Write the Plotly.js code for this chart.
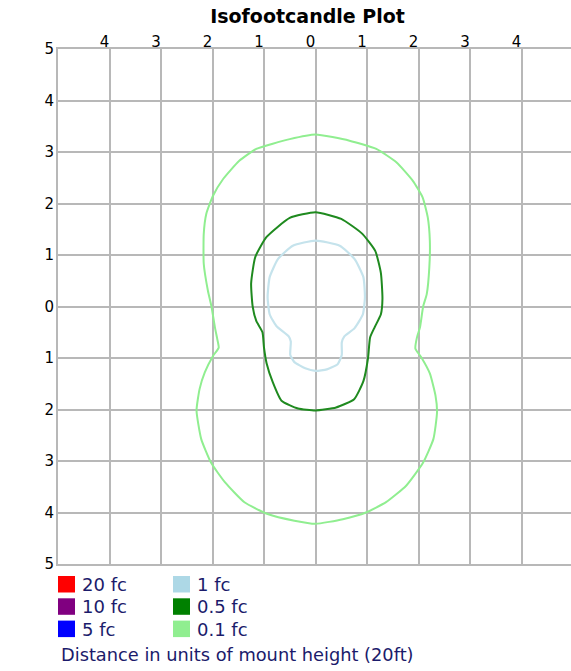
<!DOCTYPE html>
<html>
<head>
<meta charset="utf-8">
<script src="https://cdn.plot.ly/plotly-3.0.1.min.js"></script>
<style>html,body{margin:0;padding:0;background:#fff;}#chart{width:571px;height:671px;}</style>
</head>
<body>
<div id="chart"></div>
<script>
// ---- data (distance in units of mount height) ----
const axisTicks = [-5, -4, -3, -2, -1, 0, 1, 2, 3, 4, 5];
const axisTickText = ['5', '4', '3', '2', '1', '0', '1', '2', '3', '4', '5'];
const xTopTicks = [-4, -3, -2, -1, 0, 1, 2, 3, 4];
const xTopTickText = ['4', '3', '2', '1', '0', '1', '2', '3', '4'];

// 0.1 fc contour
const fc01X = [0, 0.66, 1.18, 1.57, 1.89, 2.08, 2.18, 2.22, 2.21, 2.16, 2.09, 2.03, 1.97, 1.94, 2.05, 2.22, 2.33, 2.36, 2.29, 2.09, 1.76, 1.37, 0.98, 0.53, 0,
               -0.41, -0.93, -1.38, -1.76, -2.03, -2.22, -2.31, -2.25, -2.15, -1.99, -1.88, -1.91, -1.95, -2.02, -2.09, -2.17, -2.17, -2.12, -1.99, -1.79, -1.48, -1.15, -0.50, 0];
const fc01Y = [3.34, 3.22, 3.06, 2.80, 2.44, 2.12, 1.73, 1.28, 0.76, 0.24, 0.0, -0.40, -0.60, -0.82, -0.98, -1.30, -1.73, -2.05, -2.57, -3.03, -3.48, -3.80, -4.00, -4.13, -4.22,
               -4.16, -4.03, -3.80, -3.41, -3.03, -2.57, -2.02, -1.60, -1.28, -0.96, -0.80, -0.62, -0.42, 0.0, 0.31, 0.83, 1.41, 1.80, 2.15, 2.48, 2.83, 3.06, 3.25, 3.34];

// 0.5 fc contour
const fc05X = [0, 0.50, 0.90, 1.16, 1.27, 1.30, 1.27, 1.15, 1.06, 1.02, 0.93, 0.75, 0.40, 0,
               -0.34, -0.66, -0.83, -0.95, -1.00, -1.03, -1.15, -1.22, -1.25, -1.17, -0.95, -0.50, 0];
const fc05Y = [1.83, 1.70, 1.42, 1.08, 0.65, 0.15, -0.15, -0.40, -0.60, -1.00, -1.45, -1.80, -1.96, -2.02,
               -1.98, -1.83, -1.47, -1.10, -0.80, -0.50, -0.28, 0.0, 0.45, 0.96, 1.35, 1.72, 1.83];

// 1 fc contour
const fc1X = [0, 0.47, 0.76, 0.93, 0.96, 0.92, 0.76, 0.56, 0.51, 0.51, 0.43, 0.22, 0,
              -0.20, -0.41, -0.49, -0.48, -0.52, -0.76, -0.89, -0.93, -0.89, -0.73, -0.44, 0];
const fc1Y = [1.28, 1.18, 0.92, 0.57, 0.18, -0.15, -0.42, -0.58, -0.70, -0.94, -1.12, -1.22, -1.25,
              -1.20, -1.08, -0.94, -0.68, -0.58, -0.38, -0.15, 0.18, 0.57, 0.92, 1.18, 1.28];

const legendLabels = ['20 fc', '10 fc', '5 fc', '1 fc', '0.5 fc', '0.1 fc'];
const legendColors = ['#ff0000', '#800080', '#0000ff', '#add8e6', '#008000', '#90ee90'];
const chartTitle = 'Isofootcandle Plot';
const footerText = 'Distance in units of mount height (20ft)';

// ---- layout geometry ----
const W = 571, H = 671;
const mL = 58, mT = 49, mB = 107, mR = 0;
const plotW = W - mL - mR, plotH = H - mT - mB;
const unitPx = plotH / 10;
const xMax = -5 + plotW / unitPx;
const gridCol = '#b8b8b8';
const navy = '#1b1b6b';
const pxToPaperX = px => (px - mL) / plotW;
const pxToPaperY = py => (H - mB - py) / plotH;

const traces = [
  {x: fc01X, y: fc01Y, mode: 'lines', line: {color: '#90ee90', width: 2, shape: 'spline', smoothing: 0.5}, hoverinfo: 'skip'},
  {x: fc05X, y: fc05Y, mode: 'lines', line: {color: '#1f8a1f', width: 2, shape: 'spline', smoothing: 0.5}, hoverinfo: 'skip'},
  {x: fc1X, y: fc1Y, mode: 'lines', line: {color: '#c5e3ec', width: 2.2, shape: 'spline', smoothing: 0.5}, hoverinfo: 'skip'}
];

const shapes = [];
const annotations = [];
legendLabels.forEach((lab, i) => {
  const col = Math.floor(i / 3), row = i % 3;
  const sx = 58 + col * 115, sy = 576 + row * 22.3;
  shapes.push({type: 'rect', xref: 'paper', yref: 'paper',
    x0: pxToPaperX(sx), x1: pxToPaperX(sx + 17),
    y0: pxToPaperY(sy + 16.5), y1: pxToPaperY(sy),
    fillcolor: legendColors[i], line: {width: 0}});
  annotations.push({xref: 'paper', yref: 'paper', x: pxToPaperX(sx + 22), y: pxToPaperY(sy + 8.5),
    xanchor: 'left', yanchor: 'middle', showarrow: false, text: lab,
    font: {family: 'DejaVu Sans', size: 18, color: navy}});
});
annotations.push({xref: 'paper', yref: 'paper', x: pxToPaperX(59), y: pxToPaperY(654),
  xanchor: 'left', yanchor: 'middle', showarrow: false, text: footerText,
  font: {family: 'DejaVu Sans', size: 17.8, color: navy}});

const layout = {
  width: W, height: H,
  margin: {l: mL, r: mR, t: mT, b: mB, pad: 0},
  paper_bgcolor: '#ffffff', plot_bgcolor: '#ffffff',
  showlegend: false,
  title: {text: chartTitle, font: {family: 'DejaVu Sans', size: 19, color: '#000', weight: 'bold'},
          xref: 'container', x: 307.5 / W, xanchor: 'center', yref: 'container', y: 1 - 16 / H, yanchor: 'middle'},
  xaxis: {range: [-5, xMax], side: 'top', tickmode: 'array', tickvals: xTopTicks, ticktext: xTopTickText,
          showgrid: true, gridcolor: gridCol, gridwidth: 2, zeroline: false,
          showline: true, linecolor: gridCol, linewidth: 2, mirror: true,
          ticks: '', ticklabelshift: -5, ticklabelstandoff: -6,
          tickfont: {family: 'DejaVu Sans', size: 15, color: '#000'}, fixedrange: true},
  yaxis: {range: [-5, 5], tickmode: 'array', tickvals: axisTicks, ticktext: axisTickText,
          showgrid: true, gridcolor: gridCol, gridwidth: 2, zeroline: false,
          showline: true, linecolor: gridCol, linewidth: 2,
          ticks: '', ticklabelstandoff: -1,
          tickfont: {family: 'DejaVu Sans', size: 15, color: '#000'}, fixedrange: true},
  shapes: shapes,
  annotations: annotations
};

Plotly.newPlot('chart', traces, layout, {displayModeBar: false, staticPlot: true});
</script>
</body>
</html>
